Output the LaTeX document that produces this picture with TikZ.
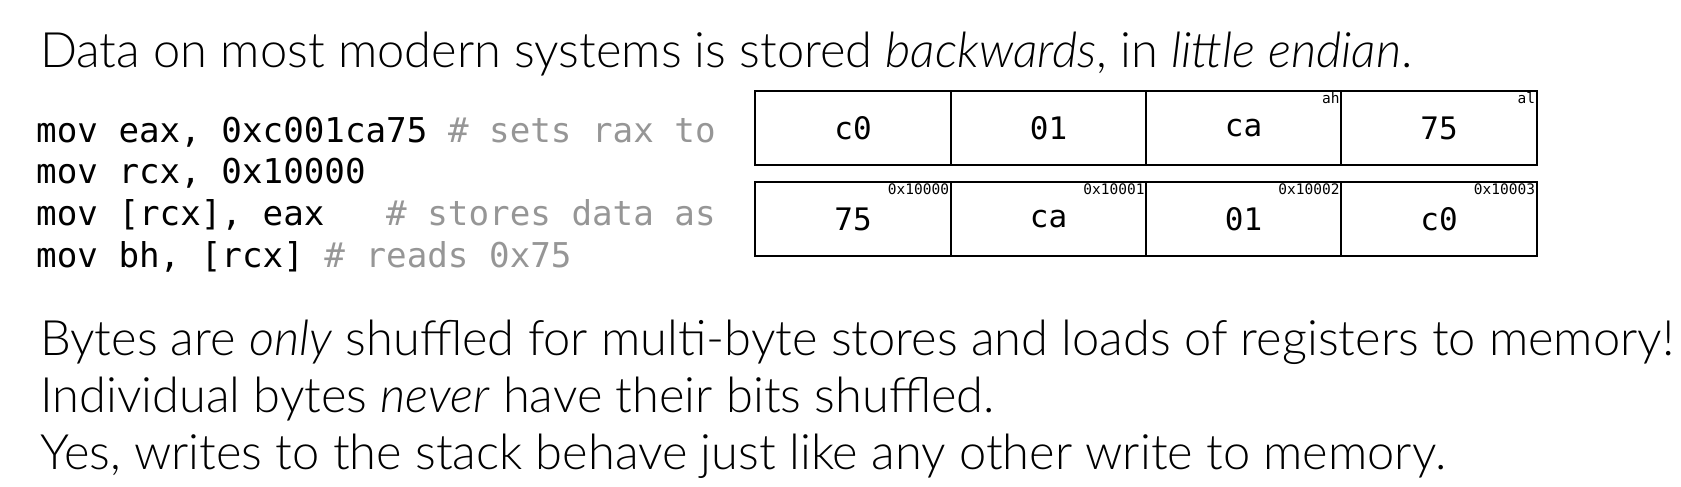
\documentclass[tikz,border=0pt]{standalone}
\usepackage{fontspec}
\setmainfont{Lato}[UprightFont=* Light, ItalicFont=* Light Italic]
\newfontfamily\codefont{DejaVu Sans Mono}
\definecolor{cmt}{RGB}{150,150,150}
\tikzset{
  txt/.style={anchor=base west, inner sep=0pt, font=\fontsize{48.8}{48.8}\selectfont},
  codeline/.style={anchor=base west, inner sep=0pt, font=\codefont\fontsize{34.2}{34.2}\selectfont},
  cell/.style={draw=black, line width=2pt, minimum width=195.5pt, minimum height=74pt, inner sep=0pt, font=\codefont\fontsize{31}{31}\selectfont},
  tag/.style={anchor=north east, inner sep=2.5pt, font=\codefont\fontsize{14.5}{14.5}\selectfont}
}
\begin{document}
\begin{tikzpicture}[x=1pt,y=-1pt]
\useasboundingbox (0,0) rectangle (1681,487);
\node[txt] (title) at (40,67) {Data on most modern systems is stored \textit{backwards}, in \textit{little endian}.};
\node[codeline] (c1) at (36,142) {mov eax, 0xc001ca75 \textcolor{cmt}{\# sets rax to}};
\node[codeline] (c2) at (36,183.7) {mov rcx, 0x10000};
\node[codeline] (c3) at (36,225.3) {mov [rcx], eax\ \ \ \textcolor{cmt}{\# stores data as}};
\node[codeline] (c4) at (36,267) {mov bh, [rcx] \textcolor{cmt}{\# reads 0x75}};
% register row
\node[cell] (r1) at (853,128) {c0};
\node[cell] (r2) at (1048.5,128) {01};
\node[cell] (r3) at (1243.5,128) {ca};
\node[cell] (r4) at (1439,128) {75};
\node[tag] (ah) at (r3.north east) {ah};
\node[tag] (al) at (r4.north east) {al};
% memory row
\node[cell] (m1) at (853,219) {75};
\node[cell] (m2) at (1048.5,219) {ca};
\node[cell] (m3) at (1243.5,219) {01};
\node[cell] (m4) at (1439,219) {c0};
\node[tag] (a1) at (m1.north east) {0x10000};
\node[tag] (a2) at (m2.north east) {0x10001};
\node[tag] (a3) at (m3.north east) {0x10002};
\node[tag] (a4) at (m4.north east) {0x10003};
\node[txt] (b1) at (40,355) {Bytes are \textit{only} shuffled for multi-byte stores and loads of registers to memory!};
\node[txt] (b2) at (40,412) {Individual bytes \textit{never} have their bits shuffled.};
\node[txt] (b3) at (40,469) {Yes, writes to the stack behave just like any other write to memory.};
\end{tikzpicture}
\end{document}
